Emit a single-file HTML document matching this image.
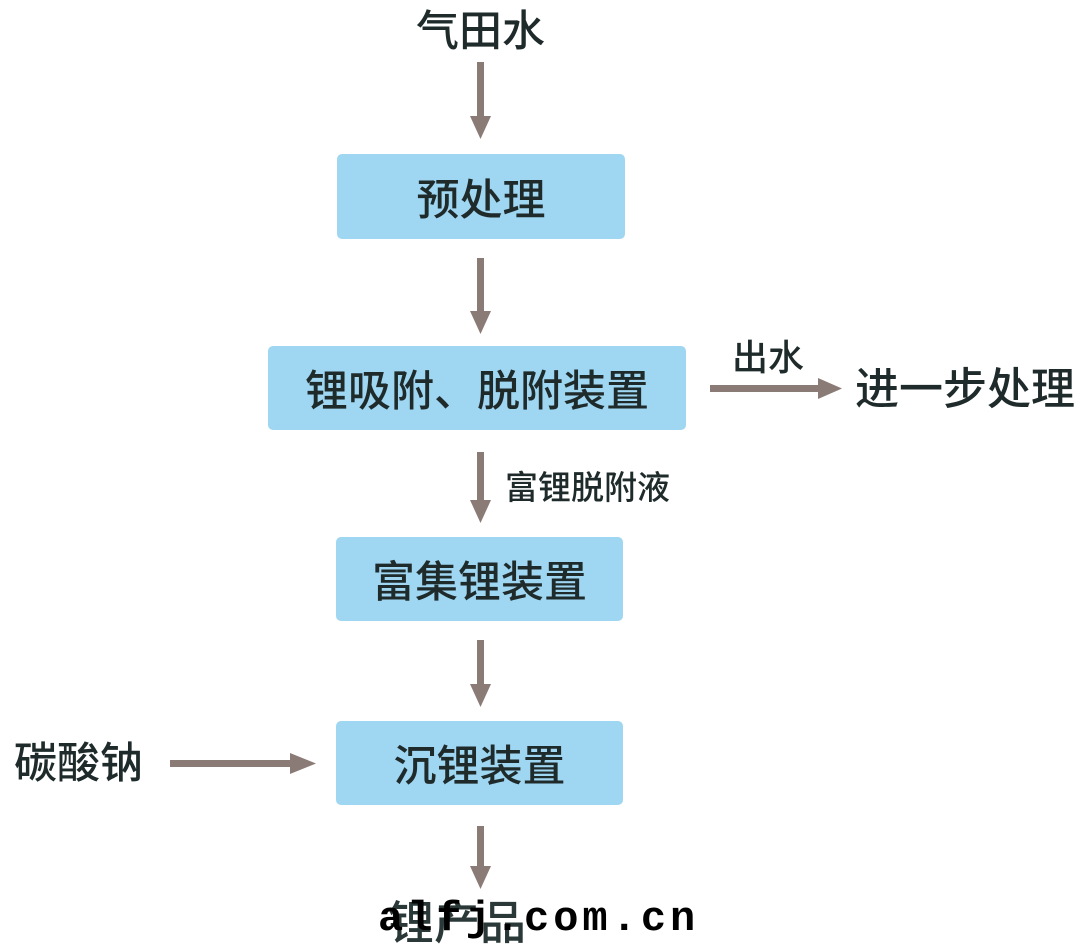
<!DOCTYPE html>
<html><head><meta charset="utf-8"><style>
body{margin:0;width:1080px;height:947px;background:#fff;position:relative;overflow:hidden;font-family:"Liberation Sans","Noto Sans CJK SC",sans-serif;color:#1f2b2b}
.t{position:absolute;white-space:nowrap;line-height:1;font-weight:500}
.box{position:absolute;background:#9fd6f2;border-radius:5px;display:flex;align-items:center;justify-content:center;font-size:43px;font-weight:500;color:#1f2b2b}
</style></head><body>
<div class="t" style="left:416px;top:11px;font-size:43px">气田水</div>
<div class="box" style="left:337px;top:154px;width:288px;height:85px">预处理</div>
<div class="box" style="left:268px;top:346px;width:418px;height:84px">锂吸附、脱附装置</div>
<div class="box" style="left:336px;top:537px;width:287px;height:84px">富集锂装置</div>
<div class="box" style="left:336px;top:721px;width:287px;height:84px">沉锂装置</div>
<div class="t" style="left:732px;top:340px;font-size:36px">出水</div>
<div class="t" style="left:855px;top:368px;font-size:44px">进一步处理</div>
<div class="t" style="left:505px;top:471px;font-size:33px">富锂脱附液</div>
<div class="t" style="left:14px;top:743px;font-size:43px">碳酸钠</div>
<div class="t" style="left:388px;top:900px;font-size:46px;color:#2a3838">锂产品</div>
<div class="t" style="left:378px;top:898px;font-size:42px;font-weight:bold;color:#000;font-family:'Liberation Mono',monospace;letter-spacing:4px">alfj.com.cn</div>
<svg width="1080" height="947" style="position:absolute;left:0;top:0">
<g fill="#8b7b76">
<rect x="477" y="62" width="7" height="56"/><polygon points="470,116 491,116 480.5,139"/>
<rect x="477" y="258" width="7" height="55"/><polygon points="470,311 491,311 480.5,334"/>
<rect x="477" y="452" width="7" height="50"/><polygon points="470,500 491,500 480.5,523"/>
<rect x="477" y="640" width="7" height="46"/><polygon points="470,684 491,684 480.5,707"/>
<rect x="477" y="826" width="7" height="42"/><polygon points="470,866 491,866 480.5,889"/>
<rect x="710" y="385" width="110" height="7"/><polygon points="818,378 818,399 842,388.5"/>
<rect x="170" y="760" width="122" height="7"/><polygon points="290,753 290,774 316,763.5"/>
</g></svg>
</body></html>
